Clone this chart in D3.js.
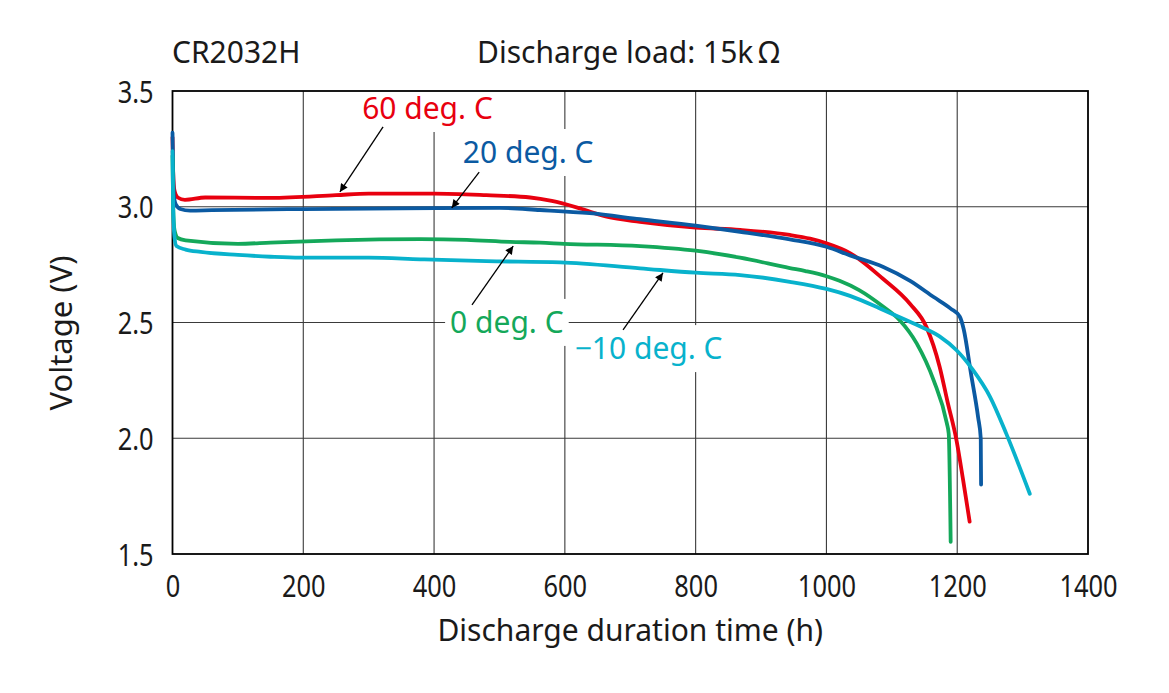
<!DOCTYPE html>
<html>
<head>
<meta charset="utf-8">
<script src="https://cdn.jsdelivr.net/npm/d3@7"></script>
<style>
  html, body { margin: 0; padding: 0; background: #fff; }
  svg { display: block; }
  text { font-family: "Noto Sans", "Open Sans", sans-serif; }
</style>
</head>
<body>
<svg id="chart" width="1169" height="693"></svg>
<script>
// ---------- data ----------
const xTickValues = [0, 200, 400, 600, 800, 1000, 1200, 1400];
const xTickLabels = ["0", "200", "400", "600", "800", "1000", "1200", "1400"];
const yTickValues = [1.5, 2.0, 2.5, 3.0, 3.5];
const yTickLabels = ["1.5", "2.0", "2.5", "3.0", "3.5"];

const seriesNames = ["60 deg. C", "20 deg. C", "0 deg. C", "\u221210 deg. C"];
const seriesColors = ["#e8000f", "#0b5aa2", "#14a85a", "#08b2cc"];

// hours
const t60 = [0, 1, 3, 8, 19, 50, 150, 250, 300, 400, 480, 547, 580, 623, 664, 715, 800, 868, 944, 975, 1000, 1036, 1086, 1128, 1153, 1173, 1185, 1199, 1209, 1219];
const v60 = [3.30, 3.15, 3.07, 3.04, 3.03, 3.04, 3.038, 3.05, 3.057, 3.057, 3.05, 3.04, 3.025, 2.993, 2.957, 2.935, 2.91, 2.90, 2.878, 2.862, 2.842, 2.80, 2.69, 2.58, 2.48, 2.31, 2.16, 1.99, 1.82, 1.64];

const t20 = [0, 1, 2, 5, 12, 27, 60, 200, 350, 500, 562, 638, 715, 800, 868, 944, 1000, 1036, 1087, 1128, 1164, 1190, 1204, 1210, 1221, 1232, 1236, 1236.5];
const v20 = [3.32, 3.15, 3.05, 3.01, 2.99, 2.983, 2.985, 2.99, 2.993, 2.995, 2.986, 2.972, 2.946, 2.918, 2.892, 2.859, 2.827, 2.79, 2.74, 2.68, 2.61, 2.56, 2.525, 2.47, 2.28, 2.09, 2.00, 1.80];

const t0 = [0, 1, 3, 8, 20, 100, 150, 250, 379, 450, 516, 562, 599, 715, 800, 868, 944, 968, 1000, 1020, 1050, 1087, 1112, 1138, 1164, 1184, 1187, 1190];
const v0 = [3.22, 3.00, 2.90, 2.865, 2.855, 2.84, 2.845, 2.855, 2.86, 2.857, 2.848, 2.845, 2.84, 2.83, 2.81, 2.78, 2.735, 2.722, 2.70, 2.68, 2.64, 2.568, 2.51, 2.41, 2.25, 2.066, 2.02, 1.553];

const tm10 = [0, 1, 3, 6, 20, 43, 100, 150, 195, 300, 379, 480, 593, 715, 800, 868, 944, 1000, 1036, 1087, 1138, 1173, 1199, 1224, 1250, 1275, 1311];
const vm10 = [3.24, 3.00, 2.87, 2.83, 2.815, 2.805, 2.792, 2.784, 2.78, 2.78, 2.773, 2.765, 2.76, 2.734, 2.715, 2.705, 2.676, 2.645, 2.615, 2.554, 2.49, 2.44, 2.38, 2.295, 2.18, 2.02, 1.76];

// label anchor (left, baseline) and arrow (from -> to), in data units
const labelT = [290, 444, 424.5, 615];
const labelV = [3.379, 3.189, 2.455, 2.342];
const arrowFromT = [322, 469, 458, 689];
const arrowFromV = [3.345, 3.15, 2.576, 2.468];
const arrowToT = [256, 427, 521, 750];
const arrowToV = [3.064, 2.995, 2.83, 2.714];

// ---------- chart ----------
const svg = d3.select("#chart");
const x = d3.scaleLinear().domain([0, 1400]).range([172.5, 1088]);
const y = d3.scaleLinear().domain([1.5, 3.5]).range([554, 91]);

const ink = "#1a1a1a";

// gridlines
const grid = svg.append("g");
grid.selectAll("line.v").data(xTickValues.slice(1, -1)).join("line")
  .attr("x1", d => x(d)).attr("x2", d => x(d))
  .attr("y1", y(1.5)).attr("y2", y(3.5))
  .attr("stroke", "#3a3a3a").attr("stroke-width", 1.1);
grid.selectAll("line.h").data(yTickValues.slice(1, -1)).join("line")
  .attr("x1", x(0)).attr("x2", x(1400))
  .attr("y1", d => y(d)).attr("y2", d => y(d))
  .attr("stroke", "#3a3a3a").attr("stroke-width", 1.1);

// axes (labels only, condensed)
const xAxis = svg.append("g").attr("transform", `translate(0,${y(1.5)})`)
  .call(d3.axisBottom(x).tickValues(xTickValues).tickFormat((d, i) => xTickLabels[i]).tickSize(0));
xAxis.select(".domain").remove();
xAxis.selectAll("text")
  .attr("y", 0).attr("dy", 0)
  .attr("transform", "translate(0,43) scale(0.82,1)")
  .attr("font-size", 31).attr("fill", ink)
  .style("font-family", '"Noto Sans", sans-serif');

const yAxis = svg.append("g").attr("transform", `translate(${x(0)},0)`)
  .call(d3.axisLeft(y).tickValues(yTickValues).tickFormat((d, i) => yTickLabels[i]).tickSize(0));
yAxis.select(".domain").remove();
yAxis.selectAll("text")
  .attr("x", 0).attr("dy", 0)
  .attr("transform", "translate(-19,11) scale(0.82,1)")
  .attr("font-size", 31).attr("fill", ink)
  .style("font-family", '"Noto Sans", sans-serif');

// label boxes & labels (white boxes hide gridlines)
const labelsG = svg.append("g");
seriesNames.forEach((name, i) => {
  const t = labelsG.append("text")
    .attr("x", x(labelT[i])).attr("y", y(labelV[i]))
    .attr("font-size", 30).attr("fill", seriesColors[i])
    .text(name);
  const b = t.node().getBBox();
  labelsG.insert("rect", "text")
    .attr("x", b.x - 5).attr("y", b.y - 2)
    .attr("width", b.width + 10).attr("height", b.height + 6)
    .attr("fill", "#fff");
});

// frame
svg.append("rect")
  .attr("x", x(0)).attr("y", y(3.5))
  .attr("width", x(1400) - x(0)).attr("height", y(1.5) - y(3.5))
  .attr("fill", "none").attr("stroke", "#000").attr("stroke-width", 1.8);

// lines
const line = d3.line()
  .x(d => x(d[0])).y(d => y(d[1]))
  .curve(d3.curveMonotoneX);
const allT = [t60, t20, t0, tm10];
const allV = [v60, v20, v0, vm10];
const linesG = svg.append("g");
allT.forEach((ts, i) => {
  const pts = ts.map((t, j) => [t, allV[i][j]]);
  linesG.append("path")
    .datum(pts)
    .attr("d", line)
    .attr("fill", "none")
    .attr("stroke", seriesColors[i])
    .attr("stroke-width", 3.8)
    .attr("stroke-linecap", "round")
    .attr("stroke-linejoin", "round");
});

// arrows
svg.append("defs").append("marker")
  .attr("id", "ah").attr("viewBox", "0 0 10 10")
  .attr("refX", 10).attr("refY", 5)
  .attr("markerWidth", 10).attr("markerHeight", 8)
  .attr("markerUnits", "userSpaceOnUse")
  .attr("orient", "auto")
  .append("path").attr("d", "M0,0 L10,5 L0,10 Z").attr("fill", "#000");
const arrowsG = svg.append("g");
arrowFromT.forEach((ft, i) => {
  arrowsG.append("line")
    .attr("x1", x(ft)).attr("y1", y(arrowFromV[i]))
    .attr("x2", x(arrowToT[i])).attr("y2", y(arrowToV[i]))
    .attr("stroke", "#000").attr("stroke-width", 1.3)
    .attr("marker-end", "url(#ah)");
});

// titles
svg.append("text").attr("x", 172).attr("y", 63)
  .attr("font-size", 30).attr("fill", ink).text("CR2032H");
svg.append("text").attr("x", 477).attr("y", 63)
  .attr("font-size", 30).attr("fill", ink).text("Discharge load: 15k\u2009\u03A9");
svg.append("text").attr("x", (x(0) + x(1400)) / 2).attr("y", 641)
  .attr("text-anchor", "middle")
  .attr("font-size", 30).attr("fill", ink).text("Discharge duration time (h)");
svg.append("text")
  .attr("transform", "translate(72,333) rotate(-90)")
  .attr("text-anchor", "middle")
  .attr("font-size", 31).attr("fill", ink).text("Voltage (V)");
</script>
</body>
</html>
